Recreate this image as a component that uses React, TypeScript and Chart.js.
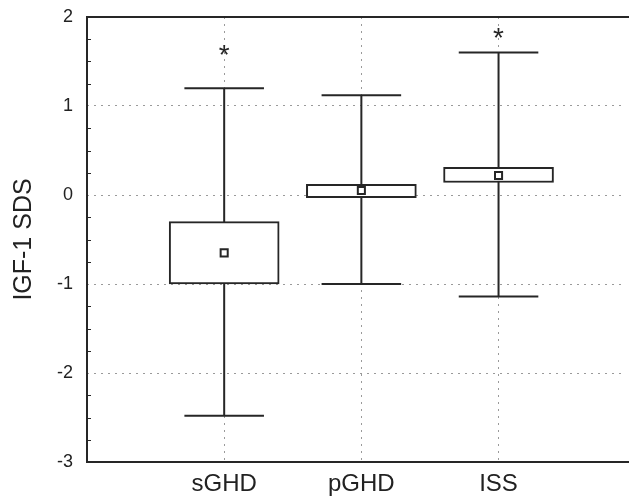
import React, { useEffect, useRef } from "react";
import { Chart, registerables } from "chart.js";

Chart.register(...registerables);

// ---- data ----
const categories = ["sGHD", "pGHD", "ISS"];
const whiskerLow = [-2.48, -1.0, -1.14];
const whiskerHigh = [1.2, 1.12, 1.6];
const boxLow = [-1.0, -0.03, 0.14];
const boxHigh = [-0.3, 0.12, 0.31];
const means = [-0.65, 0.05, 0.22];
const starValues: (number | null)[] = [1.63, null, 1.82];
const yMin = -3;
const yMax = 2;
const yStep = 1;
const minorStep = 0.25;

// ---- style constants ----
const FONT = "'Liberation Sans', Arial, Helvetica, sans-serif";
const INK = "#262626";
const GRID = "#9a9a9a";
const CAP_HALF = 0.29; // in x units
const X_MAX = 3.9;

const framePlugin = {
  id: "frameStars",
  afterDatasetsDraw(chart: any) {
    const { ctx, chartArea } = chart;
    const { left, top, bottom } = chartArea;
    const xs = chart.scales.x;
    const ys = chart.scales.y;
    ctx.save();
    // minor ticks (inward)
    ctx.strokeStyle = INK;
    ctx.lineWidth = 1;
    ctx.beginPath();
    for (let v = yMin; v <= yMax + 1e-9; v += minorStep) {
      if (Math.abs(v - Math.round(v)) < 1e-9) continue;
      const py = Math.round(ys.getPixelForValue(v)) + 0.5;
      ctx.moveTo(left, py);
      ctx.lineTo(left + 4, py);
    }
    ctx.stroke();
    // frame
    ctx.strokeStyle = INK;
    ctx.lineWidth = 2;
    ctx.beginPath();
    ctx.moveTo(chart.width, top);
    ctx.lineTo(left, top);
    ctx.lineTo(left, bottom);
    ctx.lineTo(chart.width, bottom);
    ctx.stroke();
    // significance stars
    ctx.fillStyle = INK;
    ctx.font = `28px ${FONT}`;
    ctx.textAlign = "center";
    ctx.textBaseline = "alphabetic";
    const m = ctx.measureText("*");
    const asc = m.actualBoundingBoxAscent;
    const desc = m.actualBoundingBoxDescent;
    starValues.forEach((v, i) => {
      if (v == null) return;
      const px = xs.getPixelForValue(i + 1);
      const py = ys.getPixelForValue(v);
      ctx.fillText("*", px, py + (asc - desc) / 2);
    });
    ctx.restore();
  },
};

export default function App() {
  const ref = useRef<HTMLCanvasElement | null>(null);
  useEffect(() => {
    if (!ref.current) return;
    const lineDs = (pts: { x: number; y: number }[]) => ({
      type: "line" as const,
      data: pts,
      borderColor: INK,
      borderWidth: 2,
      pointRadius: 0,
      fill: false,
      tension: 0,
      order: 3,
    });
    const whiskers = categories.map((_, i) =>
      lineDs([
        { x: i + 1, y: whiskerLow[i] },
        { x: i + 1, y: whiskerHigh[i] },
      ])
    );
    const capsTop = categories.map((_, i) =>
      lineDs([
        { x: i + 1 - CAP_HALF, y: whiskerHigh[i] },
        { x: i + 1 + CAP_HALF, y: whiskerHigh[i] },
      ])
    );
    const capsBottom = categories.map((_, i) =>
      lineDs([
        { x: i + 1 - CAP_HALF, y: whiskerLow[i] },
        { x: i + 1 + CAP_HALF, y: whiskerLow[i] },
      ])
    );
    const chart = new Chart(ref.current, {
      type: "bar",
      data: {
        datasets: [
          ...whiskers,
          ...capsTop,
          ...capsBottom,
          {
            type: "bar",
            data: categories.map((_, i) => ({ x: i + 1, y: [boxLow[i], boxHigh[i]] })),
            backgroundColor: "#ffffff",
            borderColor: INK,
            borderWidth: 2,
            borderSkipped: false,
            barThickness: 110,
            order: 2,
          } as any,
          {
            type: "scatter",
            data: categories.map((_, i) => ({ x: i + 1, y: means[i] })),
            pointStyle: "rect",
            pointRadius: 5,
            pointBorderWidth: 2,
            pointBackgroundColor: "#ffffff",
            pointBorderColor: INK,
            order: 1,
          } as any,
        ] as any,
      },
      options: {
        responsive: false,
        animation: false,
        layout: { padding: { top: 17, left: 0, right: 0, bottom: 0 } },
        plugins: { legend: { display: false }, tooltip: { enabled: false } },
        scales: {
          x: {
            type: "linear",
            min: 0,
            max: X_MAX,
            offset: false,
            afterBuildTicks: (s: any) => {
              s.ticks = categories.map((_, i) => ({ value: i + 1 }));
            },
            afterFit: (s: any) => {
              s.height = 36;
              s.paddingLeft = 0;
              s.paddingRight = 0;
            },
            ticks: {
              callback: (_v: any, idx: number) => categories[idx],
              font: { size: 24, family: FONT },
              color: "#222",
              padding: 8,
              autoSkip: false,
              maxRotation: 0,
            },
            grid: { color: GRID, lineWidth: 1, drawTicks: false, offset: false },
            border: { display: false, dash: [2, 5] },
          },
          y: {
            min: yMin,
            max: yMax,
            afterFit: (s: any) => {
              s.width = 87;
              s.paddingTop = 0;
              s.paddingBottom = 0;
            },
            ticks: {
              stepSize: yStep,
              font: { size: 18, family: FONT },
              color: "#222",
              padding: 14,
            },
            grid: { color: GRID, lineWidth: 1, drawTicks: false },
            border: { display: false, dash: [2, 5] },
            title: {
              display: true,
              text: "IGF-1 SDS",
              font: { size: 25, family: FONT },
              color: "#222",
              padding: { top: 9, bottom: 0 },
            },
          },
        },
      },
      plugins: [framePlugin],
    } as any);
    return () => chart.destroy();
  }, []);
  return (
    <div style={{ position: "absolute", left: 0, top: 0, width: 629, height: 498, background: "#fff" }}>
      <canvas ref={ref} width={629} height={498} style={{ display: "block" }} />
    </div>
  );
}
